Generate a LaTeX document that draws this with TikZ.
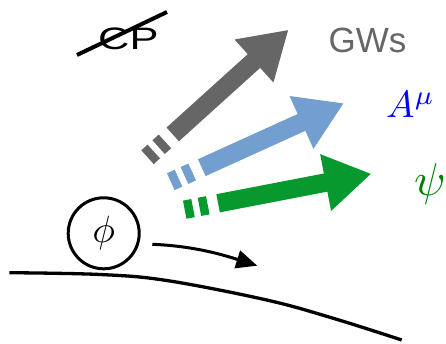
\documentclass[tikz,border=0pt]{standalone}
\usepackage{fontspec}
\usetikzlibrary{arrows.meta}
\newfontfamily\labelsans{Liberation Sans}
\definecolor{gwgray}{RGB}{102,102,102}
\definecolor{fieldblue}{RGB}{114,159,207}
\definecolor{fermgreen}{RGB}{8,153,46}
\definecolor{psigreen}{RGB}{0,128,0}
\tikzset{
  fatarrow/.pic={
    \fill[#1] (0,-9.25) rectangle (8.5,9.25);
    \fill[#1] (15,-9.25) rectangle (23.5,9.25);
    \fill[#1] (34,-9.25) -- (143.5,-9.25) -- (143.5,-29) -- (189.5,0)
      -- (143.5,29) -- (143.5,9.25) -- (34,9.25) -- cycle;
  },
  lbl/.style={inner sep=0pt, anchor=base west},
  thickline/.style={line width=3.3pt},
}
\begin{document}
\begin{tikzpicture}[x=1pt,y=-1pt]
\useasboundingbox (0,0) rectangle (446,344);

% CP with strike
\node[lbl] (cp) at (98,50) {\labelsans\fontsize{31}{34}\selectfont\scalebox{1.4}[1]{CP}};
\coordinate (strikeA) at (77,55);
\coordinate (strikeB) at (167,12);
\draw[line width=4pt] (strikeA) -- (strikeB);

% labels
\node[lbl, text=gwgray] (gws) at (328.5,53) {\labelsans\fontsize{35}{40}\selectfont GWs};
\node[lbl, text=blue] (amu) at (386,118) {\scalebox{3.8}{$A^{\mu}$}};
\node[lbl, text=psigreen] (psi) at (414,196) {\scalebox{4.6}{$\psi$}};

% fat dashed arrows
\pic[rotate=42.1] at (147.5,157.2) {fatarrow=gwgray};
\pic[rotate=24.4] at (170.8,181.7) {fatarrow=fieldblue};
\pic[rotate=10.9] at (184.7,209.7) {fatarrow=fermgreen};

% rolling field
\node[circle, draw, line width=3pt, minimum size=71pt, inner sep=0pt] (phi) at (103.7,233.3) {\scalebox{3.8}{$\phi$}};
\coordinate (rollstart) at (152.3,244.3);
\coordinate (rollend) at (257.3,265.7);
\draw[line width=3pt, -{Triangle[length=21pt,width=18pt]}] (rollstart) .. controls (195,246) and (225,255.5) .. (rollend);

% ground
\draw[thickline] plot[smooth, tension=0.6] coordinates {(9.3,272.7) (100,274.5) (166.7,280.5) (266.7,300) (333.3,318.3) (401.7,340)};
\end{tikzpicture}
\end{document}
